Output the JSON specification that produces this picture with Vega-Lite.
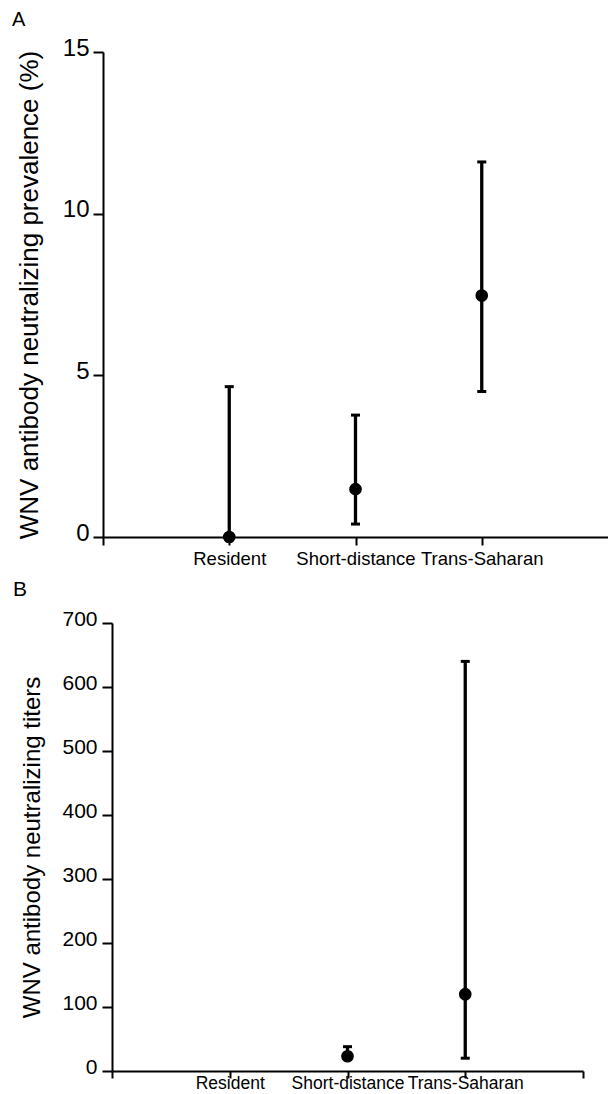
{
  "$schema": "https://vega.github.io/schema/vega-lite/v6.json",
  "padding": {"left": 12, "top": 10, "right": 0, "bottom": 0},
  "autosize": {"type": "pad"},
  "background": "white",
  "config": {
    "font": "Liberation Sans",
    "view": {"stroke": null},
    "axis": {
      "grid": false,
      "domainColor": "black",
      "tickColor": "black",
      "labelColor": "black",
      "titleColor": "black",
      "domainWidth": 2,
      "tickWidth": 2,
      "titleFontWeight": "normal"
    },
    "title": {"color": "black", "fontWeight": "normal"}
  },
  "columns": 1,
  "align": "none",
  "spacing": 11,
  "concat": [
    {
      "title": {"text": "A", "anchor": "start", "frame": "group", "fontSize": 20, "offset": 6, "dx": -91},
      "width": 505,
      "height": 485,
      "data": {
        "values": [
          {"group": "Resident", "value": 0, "lower": 0, "upper": 4.65},
          {"group": "Short-distance", "value": 1.48, "lower": 0.4, "upper": 3.77},
          {"group": "Trans-Saharan", "value": 7.47, "lower": 4.5, "upper": 11.6}
        ]
      },
      "encoding": {
        "x": {
          "field": "group", "type": "nominal",
          "scale": {"type": "point", "domain": ["start", "Resident", "Short-distance", "Trans-Saharan", "end"], "padding": 0},
          "axis": {
            "title": null, "labelAngle": 0, "labelFontSize": 18.5, "tickSize": 8, "labelPadding": 4,
            "labelExpr": "datum.value == 'start' || datum.value == 'end' ? '' : datum.value",
            "tickColor": {"condition": {"test": "datum.value == 'end'", "value": "transparent"}, "value": "black"}
          }
        }
      },
      "layer": [
        {
          "mark": {"type": "errorbar", "color": "black", "thickness": 3.3, "ticks": {"size": 9, "thickness": 3, "color": "black", "opacity": 1}},
          "encoding": {
            "y": {
              "field": "lower", "type": "quantitative",
              "scale": {"domain": [0, 15], "nice": false},
              "axis": {
                "title": "WNV antibody neutralizing prevalence (%)", "values": [0, 5, 10, 15],
                "tickSize": 10, "labelPadding": 4, "labelFontSize": 24, "titleFontSize": 26,
                "labelOffset": -4, "minExtent": 40, "maxExtent": 40, "titlePadding": 21
              }
            },
            "y2": {"field": "upper"}
          }
        },
        {
          "mark": {"type": "point", "filled": true, "size": 160, "color": "black", "opacity": 1, "shape": "circle"},
          "encoding": {"y": {"field": "value", "type": "quantitative"}}
        }
      ]
    },
    {
      "title": {"text": "B", "anchor": "start", "frame": "group", "fontSize": 21, "offset": 8, "dx": -90},
      "width": 480,
      "height": 448,
      "data": {
        "values": [
          {"group": "Short-distance", "value": 23, "lower": 20, "upper": 38},
          {"group": "Trans-Saharan", "value": 120, "lower": 20, "upper": 640}
        ]
      },
      "encoding": {
        "x": {
          "field": "group", "type": "nominal",
          "scale": {"type": "point", "domain": ["start", "Resident", "Short-distance", "Trans-Saharan", "end"], "padding": 0, "range": [9, 480]},
          "axis": {
            "title": null, "labelAngle": 0, "labelFontSize": 17.5, "tickSize": 7, "labelPadding": -4,
            "labelExpr": "datum.value == 'start' || datum.value == 'end' ? '' : datum.value"
          }
        }
      },
      "layer": [
        {
          "mark": {"type": "errorbar", "color": "black", "thickness": 3.3, "ticks": {"size": 9, "thickness": 3, "color": "black", "opacity": 1}},
          "encoding": {
            "y": {
              "field": "lower", "type": "quantitative",
              "scale": {"domain": [0, 700], "nice": false},
              "axis": {
                "title": "WNV antibody neutralizing titers", "values": [0, 100, 200, 300, 400, 500, 600, 700],
                "offset": -9,
                "tickSize": 10, "labelPadding": 5, "labelFontSize": 21, "titleFontSize": 24,
                "labelOffset": -4, "minExtent": 50, "maxExtent": 50, "titlePadding": 18
              }
            },
            "y2": {"field": "upper"}
          }
        },
        {
          "mark": {"type": "point", "filled": true, "size": 160, "color": "black", "opacity": 1, "shape": "circle"},
          "encoding": {"y": {"field": "value", "type": "quantitative"}}
        }
      ]
    }
  ]
}
